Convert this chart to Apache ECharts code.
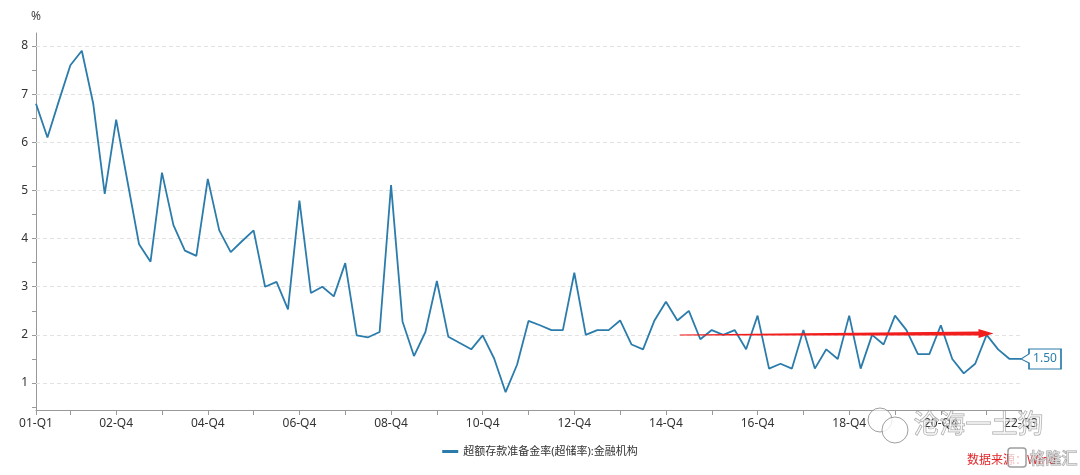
<!DOCTYPE html>
<html>
<head>
<meta charset="utf-8">
<script src="https://cdn.jsdelivr.net/npm/echarts@6/dist/echarts.min.js"></script>
<style>
html,body{margin:0;padding:0;background:#fff;}
#chart{width:1080px;height:475px;}
</style>
</head>
<body>
<div id="chart"></div>
<script>
// ---- data ----
const seriesName = '超额存款准备金率(超储率):金融机构';
const startYear = 2001;
const values = [
  6.8, 6.1, 6.86, 7.6, 7.9, 6.8, 4.93, 6.47, 5.17, 3.88,
  3.52, 5.37, 4.28, 3.75, 3.64, 5.24, 4.17, 3.72, 3.95, 4.17,
  3.0, 3.1, 2.53, 4.79, 2.87, 3.0, 2.8, 3.49, 1.99, 1.95,
  2.06, 5.11, 2.28, 1.56, 2.06, 3.12, 1.96, 1.83, 1.7, 1.99,
  1.51, 0.81, 1.38, 2.29, 2.2, 2.1, 2.1, 3.29, 2.0, 2.1,
  2.1, 2.3, 1.8, 1.7, 2.3, 2.69, 2.3, 2.5, 1.91, 2.1,
  2.0, 2.1, 1.7, 2.4, 1.3, 1.4, 1.3, 2.1, 1.3, 1.7,
  1.5, 2.4, 1.3, 2.0, 1.8, 2.4, 2.1, 1.6, 1.6, 2.2,
  1.5, 1.2, 1.4, 2.0, 1.7, 1.5, 1.5
];
const categories = values.map((_, i) => {
  const y = startYear + Math.floor(i / 4);
  return String(y % 100).padStart(2, '0') + '-Q' + (i % 4 + 1);
});
const yLabelValues = [1, 2, 3, 4, 5, 6, 7, 8];
const yTickValues = [0.5, 1, 1.5, 2, 2.5, 3, 3.5, 4, 4.5, 5, 5.5, 6, 6.5, 7, 7.5, 8];
const yMin = 0.44, yMax = 8.27;
const arrowStart = [56.2, 2.0];
const arrowEnd = [83.6, 2.03];
const sourceText = '数据来源：Wind';
const watermarkText = '沧海一土狗';
const logoText = '格隆汇';
// ---------------

const lineColor = '#2b7cab';
const lastIdx = values.length - 1;
const chart = echarts.init(document.getElementById('chart'));
const fontFamily = '"Noto Sans", "Noto Sans CJK SC", sans-serif';
const wmStroke = 'rgba(125,125,125,0.75)';
const wmFill = 'rgba(255,255,255,0.6)';

chart.setOption({
  animation: false,
  textStyle: { fontFamily },
  grid: { left: 36, right: 59, top: 33, bottom: 65, containLabel: false },
  legend: {
    data: [{ name: seriesName, icon: 'rect' }],
    top: 441, left: 'center',
    itemWidth: 16, itemHeight: 3, itemGap: 6,
    textStyle: { color: '#333', fontSize: 11, fontFamily }
  },
  xAxis: [{
    type: 'category',
    data: categories,
    boundaryGap: false,
    axisLine: { lineStyle: { color: '#999' } },
    axisTick: { interval: (i) => i === 0 || (i - 3) % 4 === 0 || i === lastIdx, length: 5, lineStyle: { color: '#999' } },
    axisLabel: { interval: (i) => i === 0 || (i - 7) % 8 === 0 || i === lastIdx, color: '#333', fontSize: 12, margin: 8 },
    splitLine: { show: false }
  }, {
    type: 'value', min: 0, max: lastIdx, show: false
  }],
  yAxis: {
    type: 'value',
    min: yMin, max: yMax,
    name: '%',
    nameLocation: 'end',
    nameGap: 10,
    nameTextStyle: { color: '#444', fontSize: 12, align: 'center' },
    axisLine: { show: true, lineStyle: { color: '#999' } },
    axisTick: { show: true, customValues: yTickValues, length: 4, lineStyle: { color: '#999' } },
    axisLabel: { customValues: yLabelValues, color: '#333', fontSize: 12, margin: 8 },
    splitLine: { show: false }
  },
  series: [{
    name: seriesName,
    type: 'line',
    data: values,
    showSymbol: false,
    symbol: 'none',
    lineStyle: { color: lineColor, width: 1.8 },
    itemStyle: { color: lineColor },
    z: 3,
    markLine: {
      silent: true, symbol: 'none', animation: false,
      label: { show: false },
      lineStyle: { color: '#e2e2e2', type: [4, 3], width: 1 },
      data: yLabelValues.map(v => ({ yAxis: v })),
      z: 1
    },
    markPoint: {
      silent: true,
      data: [{ coord: [lastIdx, values[lastIdx]], value: values[lastIdx] }],
      symbol: 'path://M0,10 L8,5 L8,0 L40,0 L40,20 L8,20 L8,14 Z',
      symbolSize: [40, 20],
      symbolOffset: [20, 0],
      itemStyle: { color: '#fff', borderColor: lineColor, borderWidth: 1.2 },
      label: {
        show: true, position: 'inside', offset: [4, 0],
        formatter: (p) => Number(p.value).toFixed(2),
        color: lineColor, fontSize: 12, fontFamily
      }
    }
  }, {
    type: 'custom',
    xAxisIndex: 1,
    silent: true,
    z: 5,
    data: [[arrowStart[0], arrowStart[1], arrowEnd[0], arrowEnd[1]]],
    renderItem: (params, api) => {
      const p0 = api.coord([api.value(0), api.value(1)]);
      const p1 = api.coord([api.value(2), api.value(3)]);
      const dx = p1[0] - p0[0], dy = p1[1] - p0[1];
      const len = Math.sqrt(dx * dx + dy * dy);
      const ux = dx / len, uy = dy / len;
      const nx = -uy, ny = ux;
      const head = 15, hw = 4.5, w0 = 0.5, w1 = 2;
      const bx = p1[0] - ux * head, by = p1[1] - uy * head;
      const pts = [
        [p0[0] + nx * w0, p0[1] + ny * w0],
        [bx + nx * w1, by + ny * w1],
        [bx + nx * hw, by + ny * hw],
        [p1[0], p1[1]],
        [bx - nx * hw, by - ny * hw],
        [bx - nx * w1, by - ny * w1],
        [p0[0] - nx * w0, p0[1] - ny * w0]
      ];
      return { type: 'polygon', shape: { points: pts }, style: { fill: '#f21d1d' } };
    }
  }],
  graphic: [
    {
      type: 'text', left: 967, top: 455, z: 10,
      style: { text: sourceText, fill: '#e0262a', fontSize: 12, fontFamily }
    },
    {
      type: 'circle', shape: { cx: 880, cy: 420, r: 12 }, z: 20,
      style: { fill: wmFill, stroke: wmStroke, lineWidth: 1 }
    },
    {
      type: 'circle', shape: { cx: 895, cy: 430, r: 13 }, z: 21,
      style: { fill: 'rgba(255,255,255,0.8)', stroke: wmStroke, lineWidth: 1 }
    },
    {
      type: 'text', left: 913, top: 410, z: 20,
      style: { text: watermarkText, fill: wmFill, stroke: wmStroke, lineWidth: 1, fontSize: 26, fontFamily: '"Noto Sans CJK SC", sans-serif' }
    },
    {
      type: 'rect', shape: { x: 1008, y: 448, width: 18, height: 19, r: 3 }, z: 20,
      style: { fill: 'rgba(255,255,255,0.7)', stroke: wmStroke, lineWidth: 1.5 }
    },
    {
      type: 'text', left: 1029, top: 449, z: 20,
      style: { text: logoText, fill: wmFill, stroke: wmStroke, lineWidth: 1, fontSize: 16, fontFamily: '"Noto Sans CJK SC", sans-serif' }
    }
  ]
});
</script>
</body>
</html>
